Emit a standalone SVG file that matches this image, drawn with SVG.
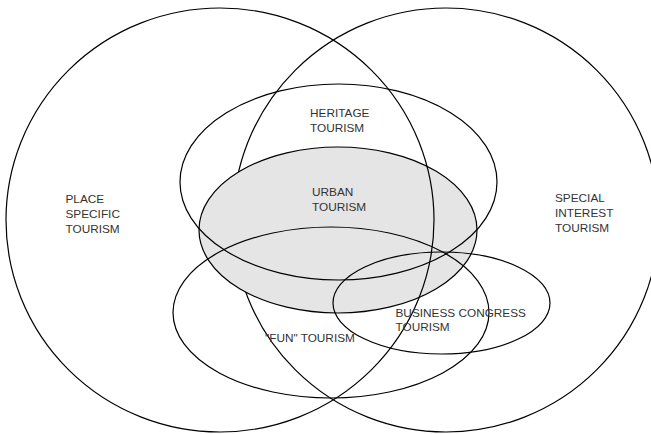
<svg xmlns="http://www.w3.org/2000/svg" width="651" height="434" viewBox="0 0 651 434">
  <style>
    .set { fill: none; stroke: #000; stroke-width: 1.2; }
    .core { fill: #e5e5e5; stroke: #000; stroke-width: 1.2; }
    .lbl { font-family: "Liberation Sans", Arial, sans-serif; font-size: 11.8px; fill: #333; }
  </style>
  <rect width="651" height="434" fill="#fff"/>

  <!-- drawn first: its inner arc is covered by the shaded core set -->
  <g id="special-interest-tourism">
    <ellipse class="set" cx="446" cy="220" rx="213" ry="212"/>
    <text class="lbl" x="555" y="201.5">SPECIAL</text>
    <text class="lbl" x="555" y="216.5">INTEREST</text>
    <text class="lbl" x="555" y="231.5">TOURISM</text>
  </g>

  <g id="urban-tourism">
    <ellipse class="core" cx="338" cy="230" rx="139" ry="83"/>
    <text class="lbl" x="312" y="196">URBAN</text>
    <text class="lbl" x="312" y="210.5">TOURISM</text>
  </g>

  <g id="place-specific-tourism">
    <ellipse class="set" cx="220" cy="220" rx="214" ry="212"/>
    <text class="lbl" x="65.5" y="202.5">PLACE</text>
    <text class="lbl" x="65.5" y="217.5">SPECIFIC</text>
    <text class="lbl" x="65.5" y="232.5">TOURISM</text>
  </g>

  <g id="heritage-tourism">
    <ellipse class="set" cx="338.5" cy="182" rx="158.5" ry="98"/>
    <text class="lbl" x="310" y="117.3">HERITAGE</text>
    <text class="lbl" x="310" y="131.7">TOURISM</text>
  </g>

  <g id="fun-tourism">
    <ellipse class="set" cx="331" cy="312.5" rx="158" ry="85.5"/>
    <text class="lbl" x="265" y="341.7">"FUN" TOURISM</text>
  </g>

  <g id="business-congress-tourism">
    <ellipse class="set" cx="441.5" cy="303" rx="108.5" ry="51"/>
    <text class="lbl" x="395.5" y="316.7">BUSINESS CONGRESS</text>
    <text class="lbl" x="395.5" y="331">TOURISM</text>
  </g>
</svg>
